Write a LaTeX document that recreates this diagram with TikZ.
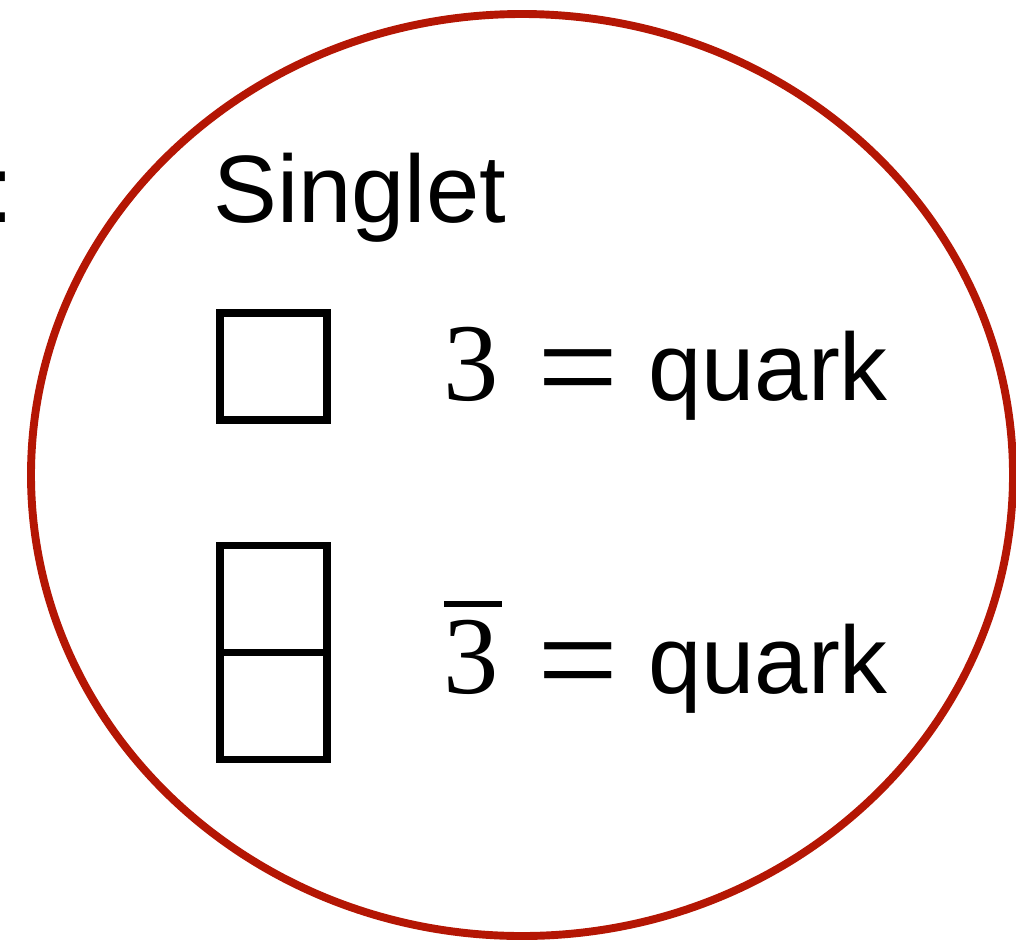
\documentclass[tikz,border=0pt]{standalone}
\usepackage{fontspec}
\setmainfont{Liberation Sans}
\newfontfamily\serifnum{Liberation Serif}
\usetikzlibrary{positioning}
\definecolor{ringred}{RGB}{180,22,4}

\begin{document}
\begin{tikzpicture}[x=0.02cm, y=-0.02cm,
    cell/.style={draw, line width=4.5pt, minimum width=2.14cm, minimum height=2.14cm, inner sep=0pt, outer sep=0pt},
    lbl/.style={anchor=base west, inner sep=0pt, font=\fontsize{54.5}{60}\selectfont},
    num/.style={anchor=base west, inner sep=0pt, font=\fontsize{63}{70}\serifnum},
    eqsign/.style={anchor=base west, inner sep=0pt, font=\fontsize{82}{90}\serifnum}]
    \useasboundingbox (0,0) rectangle (1016,943);

    % ring
    \draw[ringred, line width=4.5pt] (522,475) ellipse [x radius=491, y radius=461];

    \node[lbl, anchor=base east] (colon) at (14,222) {:};
    \node[lbl] (title) at (213,222) {Singlet};

    % Young diagrams
    \node[cell] (box) at (273.5,366.5) {};
    \node[cell] (top) at (273.5,599) {};
    \node[cell, below=0pt of top] (bot) {};

    % labels
    \node[num] (trip) at (443,400) {3};
    \node[eqsign] (eqa) at (537,415) {=};
    \node[lbl] (quarka) at (648,400) {quark};

    \node[num] (antitrip) at (443,693) {3};
    \node[eqsign] (eqb) at (537,708) {=};
    \node[lbl] (quarkb) at (648,693) {quark};
    \draw[line width=3.4pt] (444,604) -- (502,604);
\end{tikzpicture}
\end{document}
